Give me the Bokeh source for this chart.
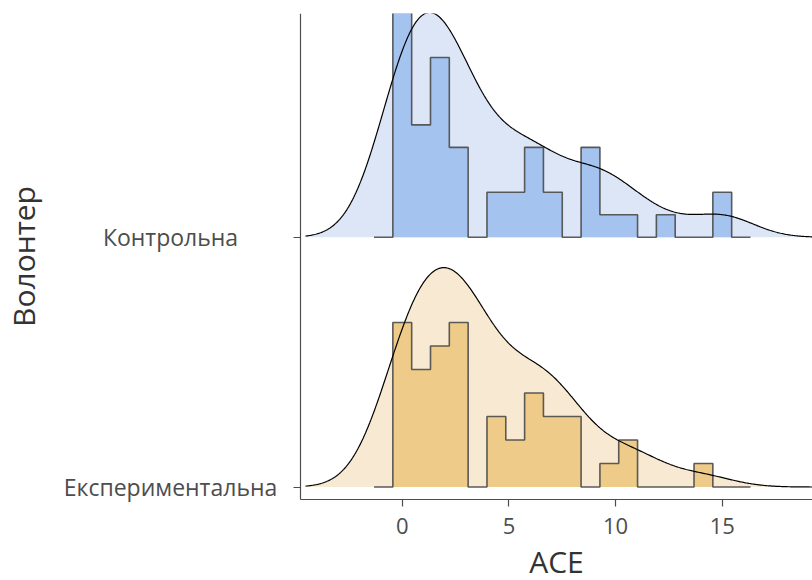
import numpy as np
from bokeh.plotting import figure
from bokeh.models import FixedTicker
from bokeh.core.properties import value
from bokeh.embed import file_html
from bokeh.resources import INLINE

# ---- data ----
categories = ["Експериментальна", "Контрольна"]
ace_values = list(range(16))
control_counts = [10, 5, 8, 4, 2, 2, 4, 2, 0, 4, 1, 1, 1, 0, 0, 2]
experimental_counts = [7, 5, 6, 7, 3, 2, 4, 3, 3, 0, 1, 2, 0, 0, 1, 0]
x_ticks = [0, 5, 10, 15]
x_title = "ACE"
y_title = "Волонтер"

# ---- styles / layout ----
density_fill = ["#f8ead2", "#dce6f7"]
bar_fill = ["#efcb89", "#a5c3ef"]
bar_line = "#4a4a4a"
axis_col = "#4d4d4d"
ridge_scale = 0.9
n_bins = 18
W, H = 812, 580
panel_x = (-4.77, 19.23)     # x domain of the panel
panel_y = (-0.05, 1.896)     # y domain of the panel
panel_left_px, panel_top_px, panel_bottom_px = 300, 13, 499
label_center_px = 170

groups = [np.repeat(ace_values, experimental_counts).astype(float),
          np.repeat(ace_values, control_counts).astype(float)]

def bw_nrd0(x):
    sd = np.std(x, ddof=1)
    iqr = np.subtract(*np.percentile(x, [75, 25]))
    return 0.9 * min(sd, iqr / 1.34) * len(x) ** (-0.2)

bw = np.mean([bw_nrd0(g) for g in groups])
allx = np.concatenate(groups)
xmin, xmax = allx.min(), allx.max()
grid = np.linspace(xmin - 3 * bw, xmax + 3 * bw, 512)

def kde(x):
    z = (grid[:, None] - x[None, :]) / bw
    return np.exp(-0.5 * z ** 2).sum(axis=1) / (len(x) * bw * np.sqrt(2 * np.pi))

w = (xmax - xmin) / (n_bins - 1)
edges = xmin - w / 2 - w + np.arange(n_bins + 3) * w
dens_list, hist_list = [], []
for g in groups:
    dens_list.append(kde(g))
    cnt, _ = np.histogram(g, bins=edges)
    hist_list.append(cnt / (len(g) * w))
dmax = max(d.max() for d in dens_list)
hmax = max(h.max() for h in hist_list)

# ranges so that the panel sits where it does in the reference, with room for labels
upp_x = (panel_x[1] - panel_x[0]) / (W - panel_left_px)
upp_y = (panel_y[1] - panel_y[0]) / (panel_bottom_px - panel_top_px)
x_range = (panel_x[0] - panel_left_px * upp_x, panel_x[1])
y_range = (panel_y[0] - (H - panel_bottom_px) * upp_y, panel_y[1])

p = figure(width=W, height=H, x_range=x_range, y_range=y_range,
           output_backend="svg", toolbar_location=None,
           min_border_left=0, min_border_right=0, min_border_top=panel_top_px, min_border_bottom=0)
p.outline_line_color = None
p.xgrid.visible = False
p.ygrid.visible = False

for i in [1, 0]:
    base = float(i)
    d = dens_list[i] / dmax * ridge_scale
    h = hist_list[i] / hmax * ridge_scale
    p.varea(x=grid, y1=np.full_like(grid, base), y2=base + d, fill_color=density_fill[i])
    sx = np.concatenate([[edges[0]], np.repeat(edges, 2)[1:-1], [edges[-1]]])
    sy = np.concatenate([[base], base + np.repeat(h, 2), [base]])
    p.patch(sx, sy, fill_color=bar_fill[i], line_color=None)
    p.line(sx, sy, line_color=bar_line, line_width=1.6, line_alpha=0.9)
    p.line(grid, base + d, line_color="black", line_width=1.2)

# category labels, centred like the reference
label_x = panel_x[0] - (panel_left_px - label_center_px) * upp_x
p.text(x=[label_x] * len(categories), y=list(range(len(categories))), text=categories,
       text_align="center", text_baseline="middle",
       text_font=value("Open Sans"), text_font_size="23px", text_color=axis_col)

# axes fixed at the panel edges
p.xaxis.fixed_location = panel_y[0]
p.xaxis.bounds = (panel_x[0], 19.6)
p.yaxis.fixed_location = panel_x[0]
p.yaxis.bounds = panel_y
p.xaxis.ticker = FixedTicker(ticks=x_ticks)
p.yaxis.ticker = FixedTicker(ticks=[], minor_ticks=list(range(len(categories))))
p.xaxis.axis_label = x_title
p.yaxis.axis_label = y_title
p.xaxis.major_label_standoff = 11
p.xaxis.axis_label_standoff = 4
p.yaxis.major_label_standoff = 0
p.yaxis.axis_label_standoff = 250
for ax in [p.xaxis[0], p.yaxis[0]]:
    ax.axis_line_color = axis_col
    ax.axis_line_width = 1.2
    ax.major_tick_line_color = axis_col
    ax.major_tick_line_width = 1.2
    ax.major_tick_in = 0
    ax.major_tick_out = 7
    ax.major_label_text_font = "Open Sans"
    ax.major_label_text_font_size = "22px"
    ax.major_label_text_color = axis_col
    ax.axis_label_text_font = "Open Sans"
    ax.axis_label_text_font_style = "normal"
    ax.axis_label_text_font_size = "30px"
    ax.axis_label_text_color = "#333333"
p.xaxis.minor_tick_line_color = None
p.yaxis.minor_tick_line_color = axis_col
p.yaxis.minor_tick_line_width = 1.2
p.yaxis.minor_tick_in = 0
p.yaxis.minor_tick_out = 7

open("out.html", "w").write(file_html(p, INLINE))
